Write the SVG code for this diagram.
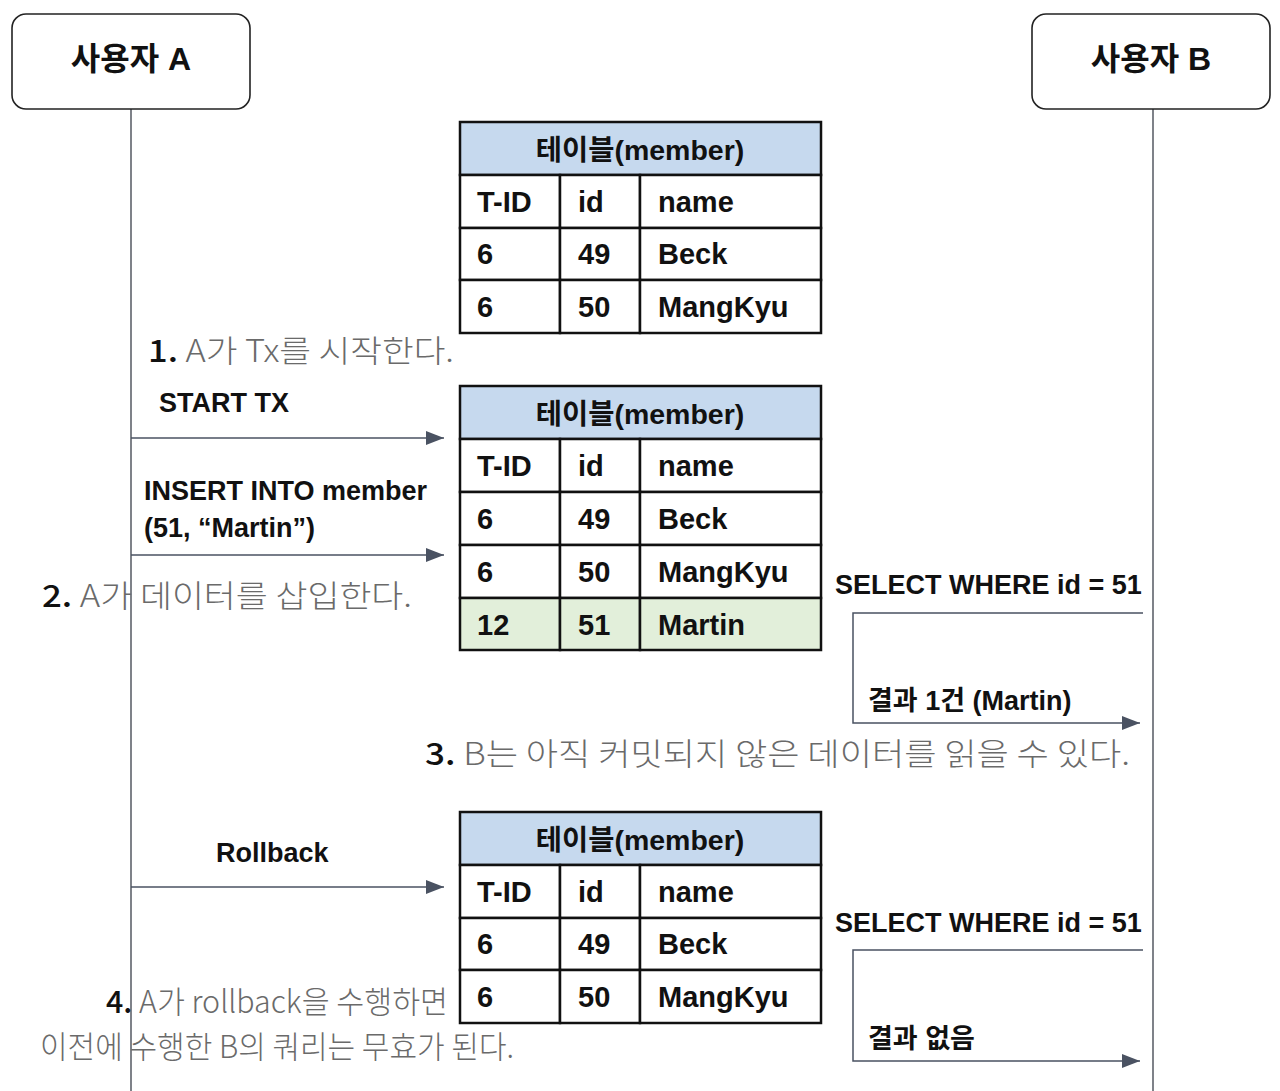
<svg xmlns="http://www.w3.org/2000/svg" width="1280" height="1091" viewBox="0 0 1280 1091">
<style>
.actor{fill:#fff;stroke:#222;stroke-width:1.6}
.actorText{font-family:"Liberation Sans","Noto Sans CJK KR",sans-serif;font-weight:bold;font-size:32px;fill:#111;text-anchor:middle}
.life{stroke:#3a3f4a;stroke-width:1.3;fill:none}
.msg{stroke:#4a5262;stroke-width:1.5;fill:none}
.lbl{font-family:"Liberation Sans","Noto Sans CJK KR",sans-serif;font-weight:bold;font-size:27px;fill:#111}
.cell{fill:#fff;stroke:#111;stroke-width:2.5}
.head{fill:#c6d9ee;stroke:#111;stroke-width:2.5}
.new{fill:#e2efda;stroke:#111;stroke-width:2.5}
.ht{font-family:"Liberation Sans","Noto Sans CJK KR",sans-serif;font-weight:bold;font-size:28.5px;fill:#111;text-anchor:middle}
.ct{font-family:"Liberation Sans",sans-serif;font-weight:bold;font-size:29px;fill:#111}
.note{font-family:"Noto Sans CJK KR","Noto Sans",sans-serif;font-weight:300;font-size:31px;fill:#6a6a6a}
.num{fill:#111;font-weight:500}
</style>
<defs>
<marker id="arr" markerUnits="userSpaceOnUse" markerWidth="19" markerHeight="14" refX="18" refY="7" orient="auto">
<path d="M0,0 L18,7 L0,14 z" fill="#4a5262"/>
</marker>
</defs>
<rect width="1280" height="1091" fill="#fff"/>

<g id="connectors">
<line class="life" x1="131" y1="109" x2="131" y2="1091"/>
<line class="life" x1="1153" y1="109" x2="1153" y2="1091"/>
<line class="msg" x1="131" y1="438" x2="444" y2="438" marker-end="url(#arr)"/>
<line class="msg" x1="131" y1="555" x2="444" y2="555" marker-end="url(#arr)"/>
<line class="msg" x1="131" y1="887" x2="444" y2="887" marker-end="url(#arr)"/>
<path class="msg" d="M1143,613 H853 V723 H1140" marker-end="url(#arr)"/>
<path class="msg" d="M1143,950 H853 V1061 H1140" marker-end="url(#arr)"/>
</g>

<g id="actorA">
<rect class="actor" x="12" y="14" width="238" height="95" rx="14"/>
<text class="actorText" x="131" y="70">사용자 A</text>
</g>
<g id="actorB">
<rect class="actor" x="1032" y="14" width="238" height="95" rx="14"/>
<text class="actorText" x="1151" y="70">사용자 B</text>
</g>

<g id="table1">
<rect class="head" x="460" y="122" width="361" height="53"/>
<rect class="cell" x="460" y="175" width="100" height="53"/>
<rect class="cell" x="560" y="175" width="80" height="53"/>
<rect class="cell" x="640" y="175" width="181" height="53"/>
<rect class="cell" x="460" y="228" width="100" height="52"/>
<rect class="cell" x="560" y="228" width="80" height="52"/>
<rect class="cell" x="640" y="228" width="181" height="52"/>
<rect class="cell" x="460" y="280" width="100" height="53"/>
<rect class="cell" x="560" y="280" width="80" height="53"/>
<rect class="cell" x="640" y="280" width="181" height="53"/>
<text class="ht" x="640" y="160">테이블(member)</text>
<text class="ct" x="477" y="212">T-ID</text><text class="ct" x="578" y="212">id</text><text class="ct" x="658" y="212">name</text>
<text class="ct" x="477" y="264">6</text><text class="ct" x="578" y="264">49</text><text class="ct" x="658" y="264">Beck</text>
<text class="ct" x="477" y="317">6</text><text class="ct" x="578" y="317">50</text><text class="ct" x="658" y="317">MangKyu</text>
</g>

<g id="table2">
<rect class="head" x="460" y="386" width="361" height="53"/>
<rect class="cell" x="460" y="439" width="100" height="53"/>
<rect class="cell" x="560" y="439" width="80" height="53"/>
<rect class="cell" x="640" y="439" width="181" height="53"/>
<rect class="cell" x="460" y="492" width="100" height="53"/>
<rect class="cell" x="560" y="492" width="80" height="53"/>
<rect class="cell" x="640" y="492" width="181" height="53"/>
<rect class="cell" x="460" y="545" width="100" height="53"/>
<rect class="cell" x="560" y="545" width="80" height="53"/>
<rect class="cell" x="640" y="545" width="181" height="53"/>
<rect class="new" x="460" y="598" width="100" height="52"/>
<rect class="new" x="560" y="598" width="80" height="52"/>
<rect class="new" x="640" y="598" width="181" height="52"/>
<text class="ht" x="640" y="424">테이블(member)</text>
<text class="ct" x="477" y="476">T-ID</text><text class="ct" x="578" y="476">id</text><text class="ct" x="658" y="476">name</text>
<text class="ct" x="477" y="529">6</text><text class="ct" x="578" y="529">49</text><text class="ct" x="658" y="529">Beck</text>
<text class="ct" x="477" y="582">6</text><text class="ct" x="578" y="582">50</text><text class="ct" x="658" y="582">MangKyu</text>
<text class="ct" x="477" y="635">12</text><text class="ct" x="578" y="635">51</text><text class="ct" x="658" y="635">Martin</text>
</g>

<g id="table3">
<rect class="head" x="460" y="812" width="361" height="53"/>
<rect class="cell" x="460" y="865" width="100" height="53"/>
<rect class="cell" x="560" y="865" width="80" height="53"/>
<rect class="cell" x="640" y="865" width="181" height="53"/>
<rect class="cell" x="460" y="918" width="100" height="52"/>
<rect class="cell" x="560" y="918" width="80" height="52"/>
<rect class="cell" x="640" y="918" width="181" height="52"/>
<rect class="cell" x="460" y="970" width="100" height="53"/>
<rect class="cell" x="560" y="970" width="80" height="53"/>
<rect class="cell" x="640" y="970" width="181" height="53"/>
<text class="ht" x="640" y="850">테이블(member)</text>
<text class="ct" x="477" y="902">T-ID</text><text class="ct" x="578" y="902">id</text><text class="ct" x="658" y="902">name</text>
<text class="ct" x="477" y="954">6</text><text class="ct" x="578" y="954">49</text><text class="ct" x="658" y="954">Beck</text>
<text class="ct" x="477" y="1007">6</text><text class="ct" x="578" y="1007">50</text><text class="ct" x="658" y="1007">MangKyu</text>
</g>

<g id="labels">
<text class="lbl" x="159" y="412">START TX</text>
<text class="lbl" x="144" y="500">INSERT INTO member</text>
<text class="lbl" x="144" y="537">(51, “Martin”)</text>
<text class="lbl" x="216" y="862">Rollback</text>
<text class="lbl" x="835" y="594">SELECT WHERE id = 51</text>
<text class="lbl" x="868" y="710">결과 1건 (Martin)</text>
<text class="lbl" x="835" y="932">SELECT WHERE id = 51</text>
<text class="lbl" x="868" y="1048">결과 없음</text>
</g>

<g id="notes">
<text class="note" x="148" y="362" textLength="306" lengthAdjust="spacingAndGlyphs"><tspan class="num">1.</tspan> A가 Tx를 시작한다.</text>
<text class="note" x="42" y="607" textLength="370" lengthAdjust="spacingAndGlyphs"><tspan class="num">2.</tspan> A가 데이터를 삽입한다.</text>
<text class="note" x="425" y="765" textLength="705" lengthAdjust="spacingAndGlyphs"><tspan class="num">3.</tspan> B는 아직 커밋되지 않은 데이터를 읽을 수 있다.</text>
<text class="note" x="106" y="1013" textLength="342" lengthAdjust="spacingAndGlyphs"><tspan class="num">4.</tspan> A가 rollback을 수행하면</text>
<text class="note" x="40" y="1058" textLength="474" lengthAdjust="spacingAndGlyphs">이전에 수행한 B의 쿼리는 무효가 된다.</text>
</g>
</svg>
